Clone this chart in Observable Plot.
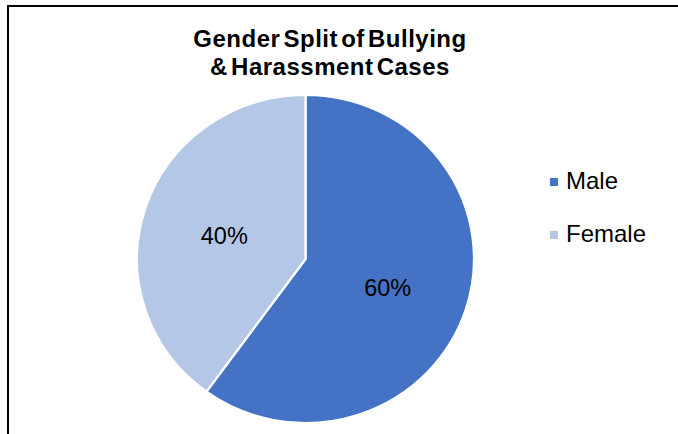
<!DOCTYPE html>
<html>
<head>
<meta charset="utf-8">
<script src="https://cdn.jsdelivr.net/npm/d3@7"></script>
<script src="https://cdn.jsdelivr.net/npm/@observablehq/plot@0.6"></script>
<style>
  html, body { margin: 0; padding: 0; background: #fff; }
  #wrap { position: relative; width: 678px; height: 434px; overflow: hidden; font-family: "Liberation Sans", Arial, sans-serif; }
  #frame { position: absolute; left: 7px; top: 5px; width: 800px; height: 600px; border-left: 2px solid #000; border-top: 2px solid #000; box-sizing: border-box; }
  #title { position: absolute; left: 80px; width: 500px; top: 25px; text-align: center; font-weight: bold; font-size: 24px; line-height: 28px; color: #000; letter-spacing: 0.5px; word-spacing: -4px; }
  .leg { position: absolute; left: 550px; font-size: 24px; color: #000; line-height: 1; }
  .leg span.sw { position: absolute; left: 0; width: 8px; height: 8px; }
  .leg span.tx { position: absolute; left: 16px; white-space: nowrap; }
  #plot { position: absolute; left: 0; top: 0; }
</style>
</head>
<body>
<div id="wrap">
  <div id="plot"></div>
  <div id="frame"></div>
  <div id="title"></div>
  <div id="legend"></div>
</div>
<script>
const titleLines = ["Gender Split of Bullying", "& Harassment Cases"];
const categories = ["Male", "Female"];
const shares = [60, 40];
const labels = ["60%", "40%"];
const colors = ["#4472C4", "#B4C7E7"];

const pieArcs = d3.pie().sort(null).value(d => d)(shares);
const labelFrac = 0.51;
const labelData = pieArcs.map((a, i) => {
  const m = (a.startAngle + a.endAngle) / 2;
  return {label: labels[i], x: labelFrac * Math.sin(m), y: labelFrac * Math.cos(m)};
});

const cx = 305.5, cy = 259, rx = 168.5, ry = 164;

function pieMark(index, scales) {
  const {x, y} = scales;
  const ox = x(0), oy = y(0);
  const sx = x(1) - x(0), sy = y(0) - y(1);
  const g = d3.create("svg:g")
    .attr("transform", `translate(${ox},${oy}) scale(${sx / sy},1)`);
  const arc = d3.arc().innerRadius(0).outerRadius(sy);
  g.selectAll("path").data(pieArcs).join("path")
    .attr("d", arc)
    .attr("fill", (d, i) => colors[i])
    .attr("stroke", "#fff")
    .attr("stroke-width", 2.2)
    .attr("stroke-linejoin", "round");
  return g.node();
}

const chart = Plot.plot({
  width: 678,
  height: 434,
  margin: 0,
  x: {domain: [-1, 1], range: [cx - rx, cx + rx], axis: null},
  y: {domain: [-1, 1], range: [cy + ry, cy - ry], axis: null},
  style: {fontFamily: "'Liberation Sans', Arial, sans-serif", background: "transparent"},
  marks: [
    pieMark,
    Plot.text(labelData, {x: "x", y: "y", text: "label", fontSize: 23.5, fill: "#000", dy: 3})
  ]
});
document.getElementById("plot").appendChild(chart);

document.getElementById("title").innerHTML = titleLines.join("<br>");

const legTops = [169, 222];
const legend = document.getElementById("legend");
categories.forEach((c, i) => {
  const d = document.createElement("div");
  d.className = "leg";
  d.style.top = legTops[i] + "px";
  d.innerHTML = `<span class="sw" style="background:${colors[i]};top:9px"></span><span class="tx">${c}</span>`;
  legend.appendChild(d);
});
</script>
</body>
</html>
